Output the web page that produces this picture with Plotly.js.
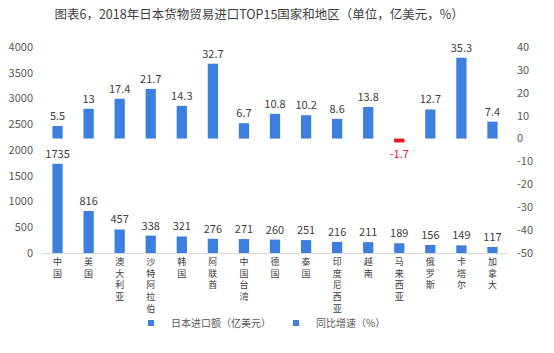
<!DOCTYPE html>
<html><head><meta charset="utf-8">
<script src="https://cdn.plot.ly/plotly-3.0.1.min.js"></script>
<style>html,body{margin:0;padding:0;background:#fff}#chart{width:554px;height:353px}</style>
</head><body><div id="chart"></div>
<script>
const categories = ["中国","美国","澳大利亚","沙特阿拉伯","韩国","阿联酋","中国台湾","德国","泰国","印度尼西亚","越南","马来西亚","俄罗斯","卡塔尔","加拿大"];
const importValues = [1735,816,457,338,321,276,271,260,251,216,211,189,156,149,117];
const growthValues = [5.5,13,17.4,21.7,14.3,32.7,6.7,10.8,10.2,8.6,13.8,-1.7,12.7,35.3,7.4];
const seriesNames = ["日本进口额（亿美元）","同比增速（%）"];
const titleText = "图表6，2018年日本货物贸易进口TOP15国家和地区（单位，亿美元，%）";
const leftTicks = [0,500,1000,1500,2000,2500,3000,3500,4000];
const rightTicks = [-50,-40,-30,-20,-10,0,10,20,30,40];

const blue = "#3D7FDE";
const font = "'Noto Sans CJK SC', 'Noto Sans', sans-serif";
const tickText = categories.map(c => c.split("").join("<br>"));

const growthColors = growthValues.map(v => v < 0 ? "#E8121E" : blue);
const growthTextColors = growthValues.map(v => v < 0 ? "#E0204A" : "#404040");

const traces = [
  {type:"bar", name:seriesNames[0], x:categories, y:importValues, yaxis:"y",
   marker:{color:blue}, width:0.33, showlegend:false,
   text:importValues.map(String), textposition:"outside", cliponaxis:false, constraintext:"none",
   textfont:{size:11, color:"#404040", family:font}},
  {type:"bar", name:seriesNames[1], x:categories, y:growthValues, yaxis:"y2",
   marker:{color:growthColors}, width:0.33, showlegend:false,
   text:growthValues.map(String), textposition:"outside", cliponaxis:false, constraintext:"none",
   textfont:{size:11, color:growthTextColors, family:font}},
  {type:"scatter", mode:"markers", name:seriesNames[0], x:[null], y:[null], yaxis:"y",
   marker:{symbol:"square", size:6, color:blue}, showlegend:true},
  {type:"scatter", mode:"markers", name:seriesNames[1], x:[null], y:[null], yaxis:"y2",
   marker:{symbol:"square", size:6, color:blue}, showlegend:true}
];

const layout = {
  width:554, height:353,
  margin:{l:41.5, r:45.5, t:47, b:100},
  paper_bgcolor:"#fff", plot_bgcolor:"#fff",
  font:{family:font, color:"#595959", size:11},
  barmode:"overlay",
  showlegend:true,
  title:{text:titleText, x:0.466, xanchor:"center", y:1-15/353, yanchor:"middle", xref:"paper",
         font:{size:12.5, color:"#404040", family:font}},
  xaxis:{tickvals:categories, ticktext:tickText, tickangle:0, showline:true, linecolor:"#d9d9d9", linewidth:1,
         ticks:"", showgrid:false, zeroline:false, tickfont:{size:9, color:"#404040"}, fixedrange:true},
  yaxis:{range:[0,4000], tickvals:leftTicks, ticktext:leftTicks.map(String), showgrid:false, zeroline:false, showline:false, ticks:"",
         ticklabelstandoff:8, tickfont:{size:11, color:"#595959"}},
  yaxis2:{range:[-50,40], tickvals:rightTicks, ticktext:rightTicks.map(String), overlaying:"y", side:"right", showgrid:false, zeroline:false,
          showline:false, ticks:"", ticklabelstandoff:8, tickfont:{size:11, color:"#595959"}},
  legend:{orientation:"h", x:0.47, xanchor:"center", y:-70/206, yanchor:"middle", bgcolor:"rgba(0,0,0,0)",
          font:{size:10, color:"#595959"}, itemwidth:30, traceorder:"normal", itemclick:false}
};
Plotly.newPlot("chart", traces, layout, {displayModeBar:false, staticPlot:true});
</script></body></html>
